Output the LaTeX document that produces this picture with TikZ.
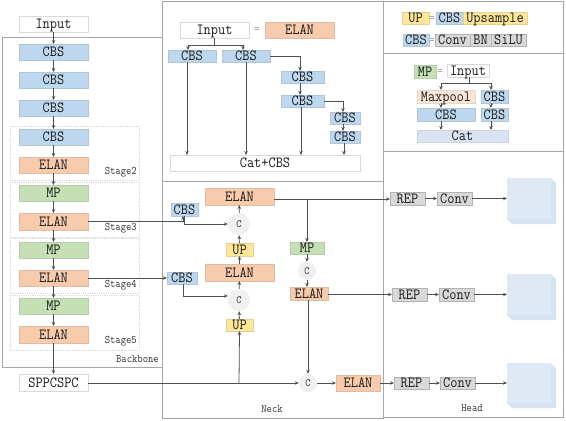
\documentclass[tikz,border=0pt]{standalone}
\usepackage{fontspec}
\usetikzlibrary{arrows.meta}
\newfontfamily\dfont[FakeStretch=0.9]{Latin Modern Mono}
\definecolor{cbsc}{HTML}{BDD7EE}
\definecolor{elanc}{HTML}{F8CBAD}
\definecolor{mpc}{HTML}{C5E0B4}
\definecolor{upc}{HTML}{FFE699}
\definecolor{grayc}{HTML}{D9D9D9}
\definecolor{catc}{HTML}{DAE3F3}
\definecolor{maxc}{HTML}{FBE5D6}
\definecolor{cubec}{HTML}{DFE8F5}
\definecolor{cubed}{HTML}{D8E3F2}
\definecolor{linec}{HTML}{505050}
\definecolor{panelc}{HTML}{A6A6A6}
\tikzset{
  box/.style={inner sep=0pt,outer sep=0pt,font=\fontsize{15.5}{15.5}\selectfont\dfont,text=black!90,line width=0.8pt,anchor=center,text height=9.4pt,text depth=0pt},
  whitebox/.style={box,draw=black!15,fill=white},
  cbsbox/.style={box,draw=cbsc!80!gray,fill=cbsc},
  elanbox/.style={box,draw=elanc!80!gray,fill=elanc},
  mpbox/.style={box,draw=mpc!80!gray,fill=mpc},
  upbox/.style={box,draw=upc!80!gray,fill=upc},
  graybox/.style={box,draw=black!30,fill=grayc},
  catbox/.style={box,draw=catc!85!gray,fill=catc},
  maxbox/.style={box,draw=maxc!85!gray,fill=maxc},
  circ/.style={circle,inner sep=0pt,fill=black!6,font=\fontsize{11}{11}\selectfont\dfont,text=black!80},
  panel/.style={draw=panelc,line width=0.9pt},
  stagebox/.style={draw=black!15,densely dotted,line width=0.8pt},
  lab/.style={inner sep=0pt,font=\fontsize{11.5}{11.5}\selectfont\dfont,text=black!80},
  conn/.style={draw=linec,line width=0.8pt,-{Stealth[length=4pt,width=3.5pt]}},
  plain/.style={draw=linec,line width=0.8pt},
}
\newcommand{\bx}[7]{%
  \pgfmathsetmacro{\bxw}{#4-#2}\pgfmathsetmacro{\bxh}{#5-#3}%
  \pgfmathsetmacro{\bxx}{(#4+#2)/2}\pgfmathsetmacro{\bxy}{(#5+#3)/2}%
  \node[#6,minimum width=\bxw pt,minimum height=\bxh pt] (#1) at (\bxx,\bxy) {#7};}
\newcommand{\cube}[2]{%
  \fill[cubed] (507,#1) -- (551,#1) -- (556,#1+5) -- (556,#2) -- (512,#2) -- (507,#2-5) -- cycle;
  \fill[cubec] (507,#1) rectangle (551,#2-5);}
\begin{document}
\begin{tikzpicture}[x=1pt,y=-1pt]
\useasboundingbox (0,0) rectangle (566,421);
\fill[white] (0,0) rectangle (566,421);
% panels
\draw[panel] (162,37) -- (2,37) -- (2,367) -- (162,367);
\draw[panel] (162,1.5) rectangle (383,181);
\draw[panel] (162,181) rectangle (383,418);
\draw[panel] (383,1.5) rectangle (563,417.5);
\draw[panel] (383,53) -- (563,53);
\draw[panel] (383,151) -- (563,151);
% stages
\draw[stagebox] (10,126) rectangle (139,180);
\draw[stagebox] (10,182) rectangle (139,237);
\draw[stagebox] (10,238) rectangle (139,293);
\draw[stagebox] (10,295) rectangle (139,350);
\node[lab,anchor=east] (s2) at (137,172) {Stage2};
\node[lab,anchor=east] (s3) at (137,228) {Stage3};
\node[lab,anchor=east] (s4) at (137,285) {Stage4};
\node[lab,anchor=east] (s5) at (137,341) {Stage5};
\node[lab,anchor=east] (bb) at (159,359) {Backbone};
\node[lab] (nk) at (272,409) {Neck};
\node[lab] (hd) at (472,408) {Head};
% cubes
\cube{178}{224}
\cube{274}{320}
\cube{363}{408}
% backbone
\bx{inp}{19}{16}{88}{32}{whitebox}{Input}
\bx{b1}{19}{44}{88}{60}{cbsbox}{CBS}
\bx{b2}{19}{72}{88}{88}{cbsbox}{CBS}
\bx{b3}{19}{100}{88}{116}{cbsbox}{CBS}
\bx{b4}{19}{129}{88}{145}{cbsbox}{CBS}
\bx{e2}{19}{157}{88}{173}{elanbox}{ELAN}
\bx{m3}{19}{185}{88}{201}{mpbox}{MP}
\bx{e3}{19}{213}{88}{230}{elanbox}{ELAN}
\bx{m4}{19}{242}{88}{258}{mpbox}{MP}
\bx{e4}{19}{270}{88}{286}{elanbox}{ELAN}
\bx{m5}{19}{298}{88}{314}{mpbox}{MP}
\bx{e5}{19}{326}{88}{343}{elanbox}{ELAN}
\bx{spp}{19}{374}{88}{391}{whitebox}{SPPCSPC}
\foreach \a/\b in {inp/b1,b1/b2,b2/b3,b3/b4,b4/e2,e2/m3,m3/e3,e3/m4,m4/e4,e4/m5,m5/e5,e5/spp}
  \draw[conn] (\a) -- (\b);
% ELAN detail
\bx{i2}{180}{22}{249}{38}{whitebox}{Input}
\node[lab,text=black!45] (eq1) at (257,30) {=};
\bx{eb}{265}{22}{334}{38}{elanbox}{ELAN}
\bx{ca}{168}{50}{216}{62}{cbsbox}{CBS}
\bx{cb}{222}{50}{270}{62}{cbsbox}{CBS}
\bx{cc}{281}{71}{324}{83}{cbsbox}{CBS}
\bx{cd}{281}{95}{324}{107}{cbsbox}{CBS}
\bx{ce}{330}{112}{360}{124}{cbsbox}{CBS}
\bx{cf}{330}{131}{360}{143}{cbsbox}{CBS}
\bx{cat}{170}{155}{360}{171}{whitebox}{Cat+CBS}
\coordinate (j1) at (214,45);
\draw[plain] (i2.south -| j1) -- (j1);
\draw[conn] (j1) -| (ca.north -| 188,0);
\draw[conn] (j1) -| (cb.north -| 243,0);
\draw[conn] (ca.south -| 187,0) -- (cat.north -| 187,0);
\draw[conn] (cb.south -| 246,0) -- (cat.north -| 246,0);
\draw[conn] (cb.east) -| (cc.north -| 300,0);
\draw[conn] (cc.south -| 300,0) -- (cd.north -| 300,0);
\draw[conn] (cd.south -| 301,0) -- (cat.north -| 301,0);
\draw[conn] (cd.east) -| (ce.north -| 343,0);
\draw[conn] (ce.south -| 343,0) -- (cf.north -| 343,0);
\draw[conn] (cf.south -| 344,0) -- (cat.north -| 344,0);
% UP / CBS legend
\bx{lu}{402}{12}{429}{24}{upbox}{UP}
\node[lab,text=black!45] (eq2) at (432,19) {=};
\bx{lc}{436}{12}{463}{24}{cbsbox}{CBS}
\bx{ls}{463}{12}{527}{24}{upbox}{Upsample}
\bx{lc2}{403}{34}{429}{46}{cbsbox}{CBS}
\node[lab,text=black!45] (eq3) at (432,41) {=};
\bx{lconv}{435}{34}{470}{46}{graybox}{Conv}
\bx{lbn}{470}{34}{491}{46}{graybox}{BN}
\bx{lsi}{491}{34}{526}{46}{graybox}{SiLU}
% MP detail
\bx{lm}{414}{65}{436}{78}{mpbox}{MP}
\node[lab,text=black!45] (eq4) at (440,72) {=};
\bx{li}{447}{64}{489}{77}{whitebox}{Input}
\bx{lmx}{417}{90}{475}{103}{maxbox}{Maxpool}
\bx{lcr1}{481}{90}{508}{103}{cbsbox}{CBS}
\bx{lcl}{417}{108}{475}{121}{cbsbox}{CBS}
\bx{lcr2}{481}{108}{508}{121}{cbsbox}{CBS}
\bx{lcat}{417}{130}{508}{142}{catbox}{Cat}
\coordinate (j2) at (469,83);
\draw[plain] (li.south -| j2) -- (j2);
\draw[conn] (j2) -| (lmx.north -| 441,0);
\draw[conn] (j2) -| (lcr1.north -| 491,0);
\draw[conn] (lmx.south -| 441,0) -- (lcl.north -| 441,0);
\draw[conn] (lcr1.south -| 491,0) -- (lcr2.north -| 491,0);
\draw[conn] (lcl.south -| 441,0) -- (lcat.north -| 441,0);
\draw[conn] (lcr2.south -| 491,0) -- (lcat.north -| 491,0);
% neck
\bx{ne1}{205}{188}{274}{205}{elanbox}{ELAN}
\bx{nc1}{171}{203}{198}{216}{cbsbox}{CBS}
\node[circ,minimum size=22pt] (c1) at (239,224) {C};
\bx{nu1}{226}{243}{253}{256}{upbox}{UP}
\bx{ne2}{205}{264}{274}{281}{elanbox}{ELAN}
\bx{nc2}{167}{272}{197}{284}{cbsbox}{CBS}
\node[circ,minimum size=22pt] (c2) at (239,300) {C};
\bx{nu2}{226}{319}{253}{331}{upbox}{UP}
\bx{nm}{290}{242}{324}{254}{mpbox}{MP}
\node[circ,minimum size=18pt] (c3) at (307,271) {C};
\bx{ne3}{290}{287}{328}{300}{elanbox}{ELAN}
\node[circ,minimum size=18pt] (c4) at (308,383) {C};
\bx{ne4}{336}{375}{380}{391}{elanbox}{ELAN}
% head
\bx{r1}{390}{192}{425}{205}{graybox}{REP}
\bx{k1}{437}{192}{472}{205}{graybox}{Conv}
\bx{r2}{392}{288}{427}{301}{graybox}{REP}
\bx{k2}{439}{288}{474}{301}{graybox}{Conv}
\bx{r3}{394}{377}{429}{389}{graybox}{REP}
\bx{k3}{440}{377}{475}{389}{graybox}{Conv}
\coordinate (t1) at (507,198.5);
\coordinate (t2) at (507,294.5);
\coordinate (t3) at (507,383);
\coordinate (j3) at (239,383);
\coordinate (j4) at (307,199);
% neck connectors
\draw[conn] (spp.east |- c4) -- (c4.west);
\draw[conn] (j3) -- (nu2.south);
\draw[conn] (nu2) -- (c2);
\draw[conn] (c2) -- (ne2);
\draw[conn] (ne2) -- (nu1);
\draw[conn] (nu1) -- (c1);
\draw[conn] (c1) -- (ne1);
\draw[conn] (e3.east) -| (nc1.south -| 183,0);
\draw[conn] (nc1.south -| 184,0) |- (c1.west);
\draw[conn] (e4.east) -- (nc2.west |- e4.east);
\draw[conn] (nc2.south -| 183,0) |- (c2.west |- 0,296);
\draw[conn] (ne1.east |- j4) -- (r1.west |- j4);
\draw[conn] (j4) -- (nm.north -| j4);
\draw[conn] (nm.south -| 307,0) -- (c3.north);
\draw[conn] (c3) -- (ne3.north -| c3);
\draw[conn] (ne3.south -| c4) -- (c4.north);
\draw[conn] (c4) -- (ne4);
\draw[conn] (ne3.east |- t2) -- (r2.west |- t2);
\draw[conn] (ne4.east |- t3) -- (r3.west |- t3);
% head connectors
\draw[conn] (r1) -- (k1);
\draw[conn] (r2) -- (k2);
\draw[conn] (r3) -- (k3);
\draw[conn] (k1.east |- t1) -- (t1);
\draw[conn] (k2.east |- t2) -- (t2);
\draw[conn] (k3.east |- t3) -- (t3);
\end{tikzpicture}
\end{document}
